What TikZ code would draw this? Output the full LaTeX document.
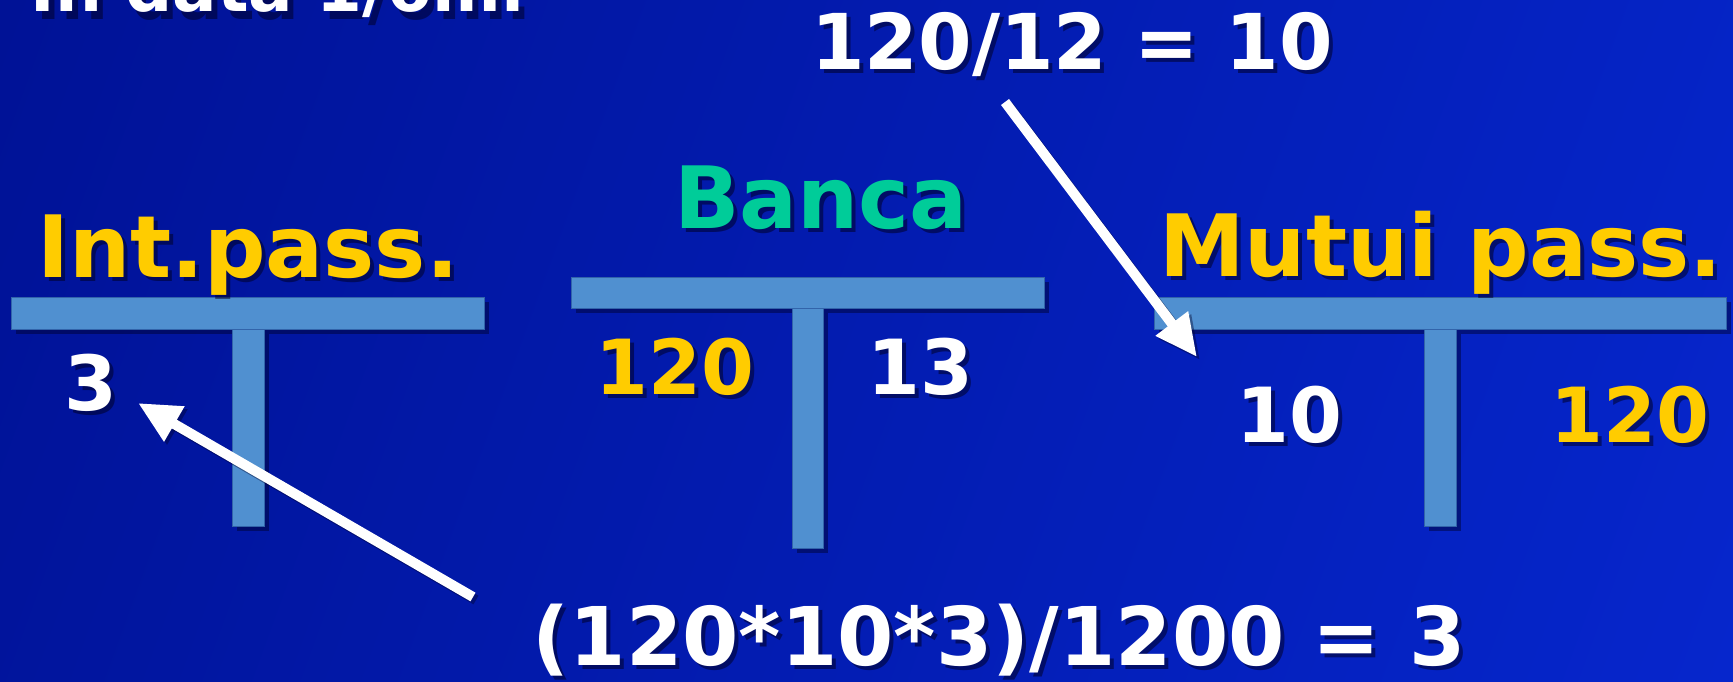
\documentclass[tikz,border=0pt]{standalone}
\usepackage{fontspec}
\setmainfont{DejaVu Sans}
\usetikzlibrary{arrows.meta}
\definecolor{bgdark}{RGB}{0,18,150}
\definecolor{bglight}{RGB}{6,38,204}
\definecolor{gold}{RGB}{255,204,0}
\definecolor{tealg}{RGB}{0,204,153}
\definecolor{barblue}{RGB}{80,144,208}
\definecolor{barline}{RGB}{50,100,170}
\definecolor{shad}{RGB}{0,0,40}
\tikzset{
  txt/.style={inner sep=0pt, outer sep=0pt, anchor=base, font=\bfseries\fontsize{#1}{#1}\selectfont},
  shd/.style={text=shad, opacity=0.55},
  bar/.style={fill=barblue, draw=barline, line width=1pt},
  barshadow/.style={fill=shad, opacity=0.45},
  arr/.style={draw=white, line width=10pt, -{Triangle[length=42pt,width=38pt]}},
  arrshadow/.style={draw=shad, opacity=0.4, line width=10pt, -{Triangle[length=42pt,width=38pt]}},
}
\newcommand{\stxt}[5]{%
  \node[txt=#3, shd, xshift=4pt, yshift=-4pt] (#1-sh) at (#2) {#5};
  \node[txt=#3, text=#4] (#1) at (#2) {#5};}
\begin{document}
\begin{tikzpicture}[x=1pt, y=-1pt]
\useasboundingbox (0,0) rectangle (1733,681);
\clip (0,0) rectangle (1733,681);
\shade[left color=bgdark, right color=bglight, shading angle=70] (-200,-200) rectangle (1933,881);

% title (clipped at top)
\node[txt=66, shd, anchor=base east, xshift=6pt, yshift=-8pt] (title-sh) at (526,11) {In data 1/6m.};
\node[txt=66, anchor=base east, text=white] (title) at (526,11) {In data 1/6m.};

% bar shadows
\fill[barshadow] (16,302) rectangle (489,334);
\fill[barshadow] (237,334) rectangle (269,531);
\fill[barshadow] (576,282) rectangle (1049,313);
\fill[barshadow] (797,313) rectangle (828,553);
\fill[barshadow] (1159,302) rectangle (1731,334);
\fill[barshadow] (1429,334) rectangle (1461,531);

% bars
\draw[bar] (232,329) rectangle (264,526);
\draw[bar] (11,297) rectangle (484,329);
\draw[bar] (792,308) rectangle (823,548);
\draw[bar] (571,277) rectangle (1044,308);
\draw[bar] (1424,329) rectangle (1456,526);
\draw[bar] (1154,297) rectangle (1726,329);

% labels
\stxt{intpass}{248,277}{86}{gold}{Int.pass.}
\stxt{banca}{821,228}{86}{tealg}{Banca}
\stxt{mutui}{1441,276}{86}{gold}{Mutui pass.}
\stxt{ip3}{91,410}{76}{white}{3}
\stxt{b120}{675,394}{76}{gold}{120}
\stxt{b13}{920,394}{76}{white}{13}
\stxt{m10}{1289,442}{76}{white}{10}
\stxt{m120}{1630,442}{76}{gold}{120}
\stxt{quota}{1072,69}{77}{white}{120/12 = 10}
\stxt{interessi}{999,665}{81}{white}{(120*10*3)/1200 = 3}

% arrows
\coordinate (a1s) at (1005,102);
\coordinate (a1e) at (1197,357);
\coordinate (a2s) at (473,597);
\coordinate (a2e) at (138,403);
\draw[arrshadow] ([xshift=3pt,yshift=-3pt]a1s) -- ([xshift=3pt,yshift=-3pt]a1e);
\draw[arrshadow] ([xshift=3pt,yshift=-3pt]a2s) -- ([xshift=3pt,yshift=-3pt]a2e);
\draw[arr] (a1s) -- (a1e);
\draw[arr] (a2s) -- (a2e);
\end{tikzpicture}
\end{document}
